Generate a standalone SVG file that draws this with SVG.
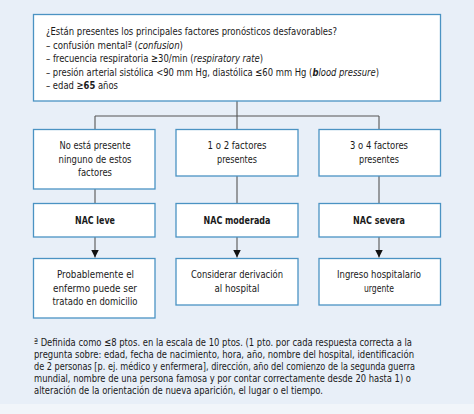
<svg xmlns="http://www.w3.org/2000/svg" width="474" height="414" viewBox="0 0 474 414">
<defs>
<style>
.box{fill:#ffffff;stroke:#4b93c3;stroke-width:1.3}
.t{font-family:"DejaVu Sans Condensed","Liberation Sans Narrow","Liberation Sans",sans-serif;font-size:11px;fill:#1a1a1a}
.b{font-weight:bold}
.ln{stroke:#555555;stroke-width:1.1;fill:none}
</style>
<marker id="ah" viewBox="0 0 10 10" refX="10" refY="5" markerWidth="8" markerHeight="8" markerUnits="userSpaceOnUse" orient="auto">
<path d="M0,0 L10,5 L0,10 z" fill="#111111"/>
</marker>
</defs>
<rect x="0" y="0" width="474" height="404" fill="#e8eff8"/>
<rect x="0" y="404" width="474" height="10" fill="#f1f5fa"/>

<g id="connectors">
<path class="ln" d="M237,101 V116 M95,116 H379 M95,116 V129 M237,116 V129 M379,116 V129"/>
<path class="ln" d="M95,189 V203 M237,176 V203 M379,176 V203"/>
<path class="ln" d="M95,237 V257.5" marker-end="url(#ah)"/>
<path class="ln" d="M237,237 V257.5" marker-end="url(#ah)"/>
<path class="ln" d="M379,237 V257.5" marker-end="url(#ah)"/>
</g>

<g id="question">
<rect class="box" x="33.5" y="14.5" width="407" height="86.5"/>
<text class="t" x="46" y="35" textLength="291" lengthAdjust="spacingAndGlyphs">¿Están presentes los principales factores pronósticos desfavorables?</text>
<text class="t" x="46" y="48.5" textLength="137" lengthAdjust="spacingAndGlyphs">– confusión mentalª (<tspan font-style="italic">confusion</tspan>)</text>
<text class="t" x="46" y="62" textLength="217" lengthAdjust="spacingAndGlyphs">– frecuencia respiratoria ≥30/min (<tspan font-style="italic">respiratory rate</tspan>)</text>
<text class="t" x="46" y="75.5" textLength="333" lengthAdjust="spacingAndGlyphs">– presión arterial sistólica &lt;90 mm Hg, diastólica ≤60 mm Hg (<tspan font-style="italic"><tspan font-weight="bold">b</tspan>lood pressure</tspan>)</text>
<text class="t" x="46" y="89" textLength="72" lengthAdjust="spacingAndGlyphs">– edad ≥<tspan font-weight="bold">65</tspan> años</text>
</g>

<g id="none">
<rect class="box" x="33.5" y="129.5" width="121.5" height="59.5"/>
<text class="t" x="59.5" y="149" textLength="71" lengthAdjust="spacingAndGlyphs">No está presente</text>
<text class="t" x="58.5" y="162.5" textLength="73" lengthAdjust="spacingAndGlyphs">ninguno de estos</text>
<text class="t" x="78" y="176" textLength="34" lengthAdjust="spacingAndGlyphs">factores</text>
</g>
<g id="onetwo">
<rect class="box" x="176" y="129.5" width="122" height="46.5"/>
<text class="t" x="207.5" y="149" textLength="59" lengthAdjust="spacingAndGlyphs">1 o 2 factores</text>
<text class="t" x="217" y="162.5" textLength="40" lengthAdjust="spacingAndGlyphs">presentes</text>
</g>
<g id="threefour">
<rect class="box" x="319" y="129.5" width="121.5" height="46.5"/>
<text class="t" x="350" y="149" textLength="58" lengthAdjust="spacingAndGlyphs">3 o 4 factores</text>
<text class="t" x="359" y="162.5" textLength="40" lengthAdjust="spacingAndGlyphs">presentes</text>
</g>

<g id="leve">
<rect class="box" x="33.5" y="203.5" width="121.5" height="33.5"/>
<text class="t b" x="75" y="224" textLength="40" lengthAdjust="spacingAndGlyphs">NAC leve</text>
</g>
<g id="moderada">
<rect class="box" x="176" y="203.5" width="122" height="33.5"/>
<text class="t b" x="203.5" y="224" textLength="67" lengthAdjust="spacingAndGlyphs">NAC moderada</text>
</g>
<g id="severa">
<rect class="box" x="319" y="203.5" width="121.5" height="33.5"/>
<text class="t b" x="353" y="224" textLength="52" lengthAdjust="spacingAndGlyphs">NAC severa</text>
</g>

<g id="domicilio">
<rect class="box" x="33.5" y="258.5" width="121.5" height="59.5"/>
<text class="t" x="57" y="278" textLength="77" lengthAdjust="spacingAndGlyphs">Probablemente el</text>
<text class="t" x="53" y="291.5" textLength="84" lengthAdjust="spacingAndGlyphs">enfermo puede ser</text>
<text class="t" x="52.5" y="305" textLength="85" lengthAdjust="spacingAndGlyphs">tratado en domicilio</text>
</g>
<g id="derivacion">
<rect class="box" x="176" y="258.5" width="122" height="46.5"/>
<text class="t" x="191" y="278" textLength="92" lengthAdjust="spacingAndGlyphs">Considerar derivación</text>
<text class="t" x="214.5" y="291.5" textLength="45" lengthAdjust="spacingAndGlyphs">al hospital</text>
</g>
<g id="ingreso">
<rect class="box" x="319" y="258.5" width="121.5" height="46.5"/>
<text class="t" x="337" y="278" textLength="84" lengthAdjust="spacingAndGlyphs">Ingreso hospitalario</text>
<text class="t" x="364" y="291.5" textLength="30" lengthAdjust="spacingAndGlyphs">urgente</text>
</g>

<g id="footnote">
<text class="t" x="34" y="345.5" textLength="378" lengthAdjust="spacingAndGlyphs">ª Definida como ≤8 ptos. en la escala de 10 ptos. (1 pto. por cada respuesta correcta a la</text>
<text class="t" x="34" y="357.7" textLength="380" lengthAdjust="spacingAndGlyphs">pregunta sobre: edad, fecha de nacimiento, hora, año, nombre del hospital, identificación</text>
<text class="t" x="34" y="369.9" textLength="381" lengthAdjust="spacingAndGlyphs">de 2 personas [p. ej. médico y enfermera], dirección, año del comienzo de la segunda guerra</text>
<text class="t" x="34" y="382.1" textLength="377" lengthAdjust="spacingAndGlyphs">mundial, nombre de una persona famosa y por contar correctamente desde 20 hasta 1) o</text>
<text class="t" x="34" y="394.3" textLength="289" lengthAdjust="spacingAndGlyphs">alteración de la orientación de nueva aparición, el lugar o el tiempo.</text>
</g>
</svg>
